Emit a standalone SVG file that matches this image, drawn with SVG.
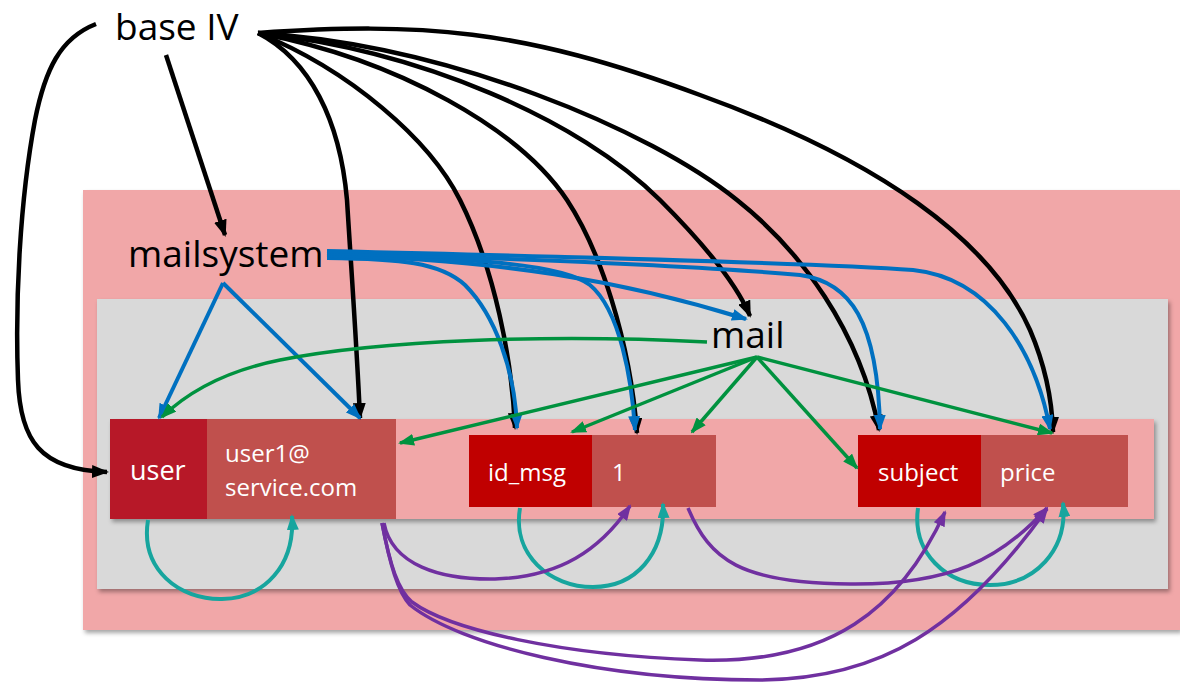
<svg xmlns="http://www.w3.org/2000/svg" width="1180" height="684" viewBox="0 0 1180 684">
  <style>
    .lbl { font-family: "Open Sans", "Liberation Sans", sans-serif; fill: #000; font-size: 37px; }
    .cell { font-family: "Open Sans", "Liberation Sans", sans-serif; fill: #fff; font-size: 24px; }
    .k { fill: none; stroke: #000; stroke-width: 4.5; marker-end: url(#ah-k); }
    .b { fill: none; stroke: #0070C0; stroke-width: 4; marker-end: url(#ah-b); }
    .g { fill: none; stroke: #00923F; stroke-width: 3.5; marker-end: url(#ah-g); }
    .t { fill: none; stroke: #17A59E; stroke-width: 4; marker-end: url(#ah-t); }
    .p { fill: none; stroke: #7030A0; stroke-width: 3.5; marker-end: url(#ah-p); }
    .pink { fill: #F1A7A8; }
    .gray { fill: #D9D9D9; }
  </style>
  <defs>
    <filter id="shadow" x="-5%" y="-5%" width="110%" height="115%">
      <feDropShadow dx="2" dy="3" stdDeviation="2" flood-color="#000" flood-opacity="0.35"/>
    </filter>
    <marker id="ah-k" viewBox="0 0 17 13" refX="15" refY="6.5" markerWidth="17" markerHeight="13" markerUnits="userSpaceOnUse" orient="auto">
      <path d="M0,0 L17,6.5 L0,13 z" fill="#000"/>
    </marker>
    <marker id="ah-b" viewBox="0 0 16 12" refX="14" refY="6" markerWidth="16" markerHeight="12" markerUnits="userSpaceOnUse" orient="auto">
      <path d="M0,0 L16,6 L0,12 z" fill="#0070C0"/>
    </marker>
    <marker id="ah-g" viewBox="0 0 16 12" refX="14" refY="6" markerWidth="16" markerHeight="12" markerUnits="userSpaceOnUse" orient="auto">
      <path d="M0,0 L16,6 L0,12 z" fill="#00923F"/>
    </marker>
    <marker id="ah-t" viewBox="0 0 16 12" refX="14" refY="6" markerWidth="16" markerHeight="12" markerUnits="userSpaceOnUse" orient="auto">
      <path d="M0,0 L16,6 L0,12 z" fill="#17A59E"/>
    </marker>
    <marker id="ah-p" viewBox="0 0 16 12" refX="14" refY="6" markerWidth="16" markerHeight="12" markerUnits="userSpaceOnUse" orient="auto">
      <path d="M0,0 L16,6 L0,12 z" fill="#7030A0"/>
    </marker>
  </defs>

  <rect width="1180" height="684" fill="#fff"/>

  <!-- nested containers -->
  <g id="container-outer">
    <rect class="pink" x="83" y="190" width="1097" height="440" filter="url(#shadow)"/>
  </g>
  <g id="container-mail">
    <rect class="gray" x="97" y="299" width="1071" height="290" filter="url(#shadow)"/>
  </g>
  <g id="container-row">
    <rect class="pink" x="110" y="419" width="1044" height="100" filter="url(#shadow)"/>
  </g>

  <!-- labels -->
  <g id="node-base-iv">
    <text class="lbl" x="115" y="40">base IV</text>
  </g>
  <g id="node-mailsystem">
    <text class="lbl" x="128" y="267">mailsystem</text>
  </g>
  <g id="node-mail">
    <text class="lbl" x="711" y="348">mail</text>
  </g>

  <!-- key/value cells -->
  <g id="node-user">
    <rect x="110" y="419" width="97" height="100" fill="#B71828"/>
    <text class="cell" x="130" y="480" style="font-size:27px">user</text>
  </g>
  <g id="node-user-value">
    <rect x="207" y="419" width="189" height="100" fill="#C0504D"/>
    <text class="cell" x="225" y="462">user1@</text>
    <text class="cell" x="225" y="496">service.com</text>
  </g>
  <g id="node-id-msg">
    <rect x="469" y="435" width="123" height="72" fill="#C00000"/>
    <text class="cell" x="488" y="481">id_msg</text>
  </g>
  <g id="node-id-value">
    <rect x="592" y="435" width="124" height="72" fill="#C0504D"/>
    <text class="cell" x="612" y="481">1</text>
  </g>
  <g id="node-subject">
    <rect x="858" y="435" width="123" height="72" fill="#C00000"/>
    <text class="cell" x="878" y="481">subject</text>
  </g>
  <g id="node-price">
    <rect x="981" y="435" width="147" height="72" fill="#C0504D"/>
    <text class="cell" x="1000" y="481">price</text>
  </g>

  <g id="connectors">
    <!-- from base IV -->
    <path class="k" d="M96,24 C60,38 45,70 35,120 C20,200 15,300 18,380 C20,440 40,470 107,472"/>
    <path class="k" d="M166,55 L225,235"/>
    <path class="k" d="M258,33 C310,60 340,120 347,200 C352,280 357,350 360,418"/>
    <path class="k" d="M258,33 C350,70 430,140 460,200 C495,270 512,360 515,428"/>
    <path class="k" d="M258,33 C400,60 520,130 567,200 C600,250 630,340 637,433"/>
    <path class="k" d="M258,33 C420,50 580,120 660,200 C700,240 735,280 750,316"/>
    <path class="k" d="M258,33 C450,45 650,130 737,200 C800,250 860,330 879,430"/>
    <path class="k" d="M258,33 C420,22 520,28 700,95 C880,160 990,240 1030,330 C1045,365 1052,400 1053,432"/>

    <!-- from mailsystem -->
    <path class="b" d="M223,283 L159,418"/>
    <path class="b" d="M223,283 L360,418"/>
    <path class="b" d="M327,258 C400,259 440,262 465,285 C495,315 515,370 517,428"/>
    <path class="b" d="M327,256 C450,257 560,262 590,285 C620,310 632,380 635,430"/>
    <path class="b" d="M327,255 C500,260 620,280 746,319"/>
    <path class="b" d="M327,253 C500,258 700,266 800,275 C850,282 878,320 880,429"/>
    <path class="b" d="M327,251 C500,255 800,262 913,270 C990,278 1035,350 1050,429"/>

    <!-- from mail -->
    <path class="g" d="M707,342 C550,334 380,340 280,360 C230,370 190,390 162,417"/>
    <path class="g" d="M757,357 L400,443"/>
    <path class="g" d="M757,357 L572,432"/>
    <path class="g" d="M757,357 L692,432"/>
    <path class="g" d="M757,357 L857,468"/>
    <path class="g" d="M757,357 L1052,433"/>

    <!-- key to value -->
    <path class="t" d="M148,520 C140,570 180,600 222,599 C265,598 295,565 292,516"/>
    <path class="t" d="M520,508 C512,555 550,587 593,587 C635,587 665,555 663,504"/>
    <path class="t" d="M918,508 C912,552 945,585 990,585 C1035,585 1068,550 1063,503"/>

    <!-- value to value -->
    <path class="p" d="M384,523 C392,565 440,580 495,579 C560,577 600,550 630,506"/>
    <path class="p" d="M688,508 C710,560 740,583 850,584 C950,585 1000,560 1047,508"/>
    <path class="p" d="M382,523 C390,565 398,590 412,602 C450,630 560,655 700,660 C830,664 900,610 945,512"/>
    <path class="p" d="M382,523 C390,565 398,592 410,605 C460,645 600,680 760,680 C880,679 960,630 1047,509"/>
  </g>
</svg>
